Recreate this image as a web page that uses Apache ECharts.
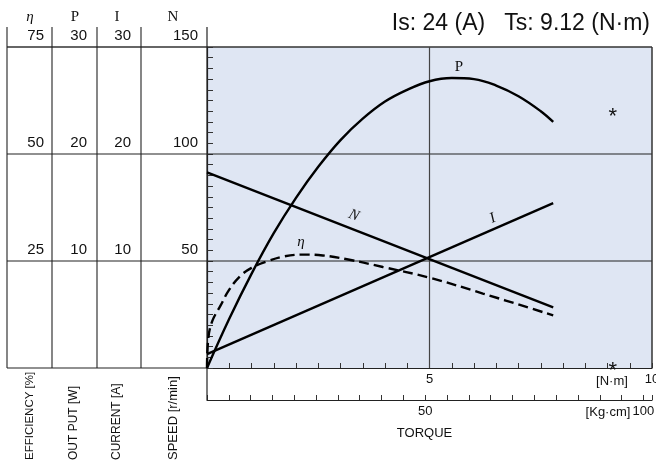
<!DOCTYPE html>
<html><head><meta charset="utf-8">
<script src="https://cdn.jsdelivr.net/npm/echarts@6/dist/echarts.min.js"></script>
<style>html,body{margin:0;padding:0;background:#fff}#c{width:656px;height:468px}</style>
</head><body><div id="c"></div>
<script>
// ---- data ----
const titleText = 'Is: 24 (A)   Ts: 9.12 (N·m)';
const columnHeads = ['η', 'P', 'I', 'N'];
const columnTitles = ['EFFICIENCY [%]', 'OUT PUT [W]', 'CURRENT [A]', 'SPEED [r/min]'];
const effMax = 75, powMax = 30, curMax = 30, spdMax = 150;
const nmLabels = [5, 10];
const kgLabels = [50, 100];
const kgPerNm = 10.19716; // Kg·cm per N·m
const stallTorque = 9.12;

const pTorque = [0, 0.5, 1, 1.5, 2, 2.5, 3, 3.5, 4, 4.5, 5, 5.5, 6, 6.5, 7, 7.5, 7.78];
const pValues = [0, 4.6, 8.8, 12.6, 15.9, 18.8, 21.3, 23.3, 24.9, 26.0, 26.8, 27.1, 27.0, 26.4, 25.4, 24.0, 23.0];

const nTorque = [0, 7.78];
const nValues = [91.4, 28.3];

const iTorque = [0, 7.78];
const iValues = [1.3, 15.4];

const effTorque = [0, 0.03, 0.12, 0.3, 0.5, 0.75, 1.0, 1.35, 1.7, 2.15, 2.6, 3.2, 3.95, 5.0, 6.2, 7.78];
const effValues = [0, 7, 11, 14.5, 18.3, 21.5, 23.4, 24.9, 26.0, 26.5, 26.3, 25.3, 23.6, 21.1, 17.4, 12.3];

// curve labels (torque, speed-scale position)
const curveLabelText = ['P', 'N', 'I', 'η'];
const curveLabelT = [5.66, 3.30, 6.42, 2.11];
const curveLabelN = [140.6, 71.3, 69.9, 58.7];
const curveLabelRot = [0, -0.37, 0.41, 0];

const zip = (a, b) => a.map((v, i) => [v, b[i]]);
const SANS = "'Liberation Sans', Arial, sans-serif";
const SERIF = "'Liberation Serif', 'Times New Roman', serif";

const colX = [7, 52, 97, 141, 207];

function yAx(max, interval, offset, margin, showLine) {
  return {
    type: 'value', min: 0, max: max, interval: interval, position: 'left', offset: offset,
    axisLine: {show: showLine, onZero: false, lineStyle: {color: '#222', width: 1.2}},
    axisTick: {show: showLine, inside: true, length: 6, lineStyle: {color: '#333', width: 1}},
    splitLine: {show: false},
    axisLabel: {
      margin: margin, color: '#111', fontSize: 15, fontFamily: SANS,
      verticalAlign: 'bottom', lineHeight: 22,
      formatter: v => (v > 0 && Math.abs(v % (max / 3)) < 1e-6) ? String(v) : ''
    }
  };
}

const option = {
  animation: false,
  backgroundColor: '#fff',
  grid: {left: 207, right: 4, top: 47, bottom: 100, show: true, backgroundColor: '#dfe6f3',
         borderWidth: 0, containLabel: false, outerBoundsMode: 'none'},
  xAxis: [
    {type: 'value', min: 0, max: 10, interval: 0.5, position: 'bottom',
     axisLine: {onZero: false, lineStyle: {color: '#222', width: 1.2}},
     axisTick: {inside: true, length: 5, lineStyle: {color: '#333'}},
     splitLine: {show: false},
     axisLabel: {margin: 5, color: '#111', fontSize: 13, fontFamily: SANS,
                 formatter: v => nmLabels.some(l => Math.abs(l - v) < 1e-6) ? String(v) : ''}},
    {type: 'value', min: 0, max: 10 * kgPerNm, interval: 5, position: 'bottom', offset: 32,
     axisLine: {onZero: false, lineStyle: {color: '#222', width: 1.2}},
     axisTick: {inside: true, length: 5, lineStyle: {color: '#333'}},
     splitLine: {show: false},
     axisLabel: {margin: 5, color: '#111', fontSize: 13, fontFamily: SANS,
                 formatter: v => kgLabels.some(l => Math.abs(l - v) < 1e-6) ? String(v) : ''}}
  ],
  yAxis: [
    yAx(spdMax, 5, 0, 9, true),
    yAx(effMax, 25, 155, 8, false),
    yAx(powMax, 10, 110, 10, false),
    yAx(curMax, 10, 66, 10, false)
  ],
  series: [
    {type: 'line', xAxisIndex: 0, yAxisIndex: 2, data: zip(pTorque, pValues), smooth: 0.4,
     symbol: 'none', lineStyle: {color: '#000', width: 2.4}, z: 5},
    {type: 'line', xAxisIndex: 0, yAxisIndex: 0, data: zip(nTorque, nValues),
     symbol: 'none', lineStyle: {color: '#000', width: 2.4}, z: 5},
    {type: 'line', xAxisIndex: 0, yAxisIndex: 3, data: zip(iTorque, iValues),
     symbol: 'none', lineStyle: {color: '#000', width: 2.4}, z: 5},
    {type: 'line', xAxisIndex: 0, yAxisIndex: 1, data: zip(effTorque, effValues), smooth: 0.4,
     symbol: 'none', lineStyle: {color: '#000', width: 2.4, type: [10, 5]}, z: 5}
  ]
};

const chart = echarts.init(document.getElementById('c'), null, {renderer: 'canvas'});
chart.setOption(option);

const px = (t, n) => chart.convertToPixel({xAxisIndex: 0, yAxisIndex: 0}, [t, n]);
const yTop = px(0, spdMax)[1], y100 = px(0, 100)[1], y50 = px(0, 50)[1], y0 = px(0, 0)[1];
const xRight = px(10, 0)[0], x5 = px(5, 0)[0];
const yKg = y0 + 32;

const g = [];
function line(x1, y1, x2, y2, color, w) {
  g.push({type: 'line', z: 1, shape: {x1, y1, x2, y2}, style: {stroke: color, lineWidth: w}});
}
function text(str, x, y, font, opts) {
  g.push(Object.assign({type: 'text', z: 10, x, y,
    style: Object.assign({text: str, font: font, fill: '#111', align: 'center', verticalAlign: 'middle'}, opts || {})}));
}
// panel lines
line(colX[0], yTop, xRight, yTop, '#333', 1.5);
line(colX[0], y100, xRight, y100, '#222', 1.1);
line(colX[0], y50, xRight, y50, '#222', 1.1);
line(colX[0], y0, colX[4], y0, '#222', 1.1);
for (let i = 0; i < 4; i++) line(colX[i], 27, colX[i], y0, '#222', 1.1);
line(colX[4], 27, colX[4], yKg, '#222', 1.2);
line(xRight, yTop, xRight, y0, '#333', 1.5);
line(x5, yTop, x5, y0, '#444', 1.2);

// title
text(titleText, 650, 24, '23px ' + SANS, {align: 'right'});
// column heads
const headX = [30, 75, 117, 173];
columnHeads.forEach((h, i) => text(h, headX[i], 17, (i === 0 ? 'italic ' : '') + '15px ' + SERIF));
// rotated titles
const titleX = [30, 74, 117, 173];
const titleSize = [11.5, 12, 12, 13];
columnTitles.forEach((t, i) => g.push({type: 'text', z: 10, x: titleX[i], y: 460, rotation: Math.PI / 2,
  style: {text: t, font: titleSize[i] + 'px ' + SANS, fill: '#111', align: 'left', verticalAlign: 'middle'}}));
// axis unit labels
text('[N·m]', 612, 381, '13px ' + SANS);
text('[Kg·cm]', 608, 412, '13px ' + SANS);
text('TORQUE', (colX[4] + xRight) / 2 - 5, 433, '13px ' + SANS);
// stall torque marks
const sA = px(stallTorque, 119.2), sB = px(stallTorque, 0);
text('*', sA[0], sA[1] + 4, '22px ' + SANS);
text('*', sB[0], sB[1] + 3, '22px ' + SANS);
// curve labels
curveLabelText.forEach((s, i) => {
  const p = px(curveLabelT[i], curveLabelN[i]);
  g.push({type: 'text', z: 10, x: p[0], y: p[1], rotation: curveLabelRot[i],
    style: {text: s, font: (i === 0 ? '' : 'italic ') + '15px ' + SERIF, fill: '#111', align: 'center', verticalAlign: 'middle'}});
});

chart.setOption({graphic: {elements: g}});
</script>
</body></html>
